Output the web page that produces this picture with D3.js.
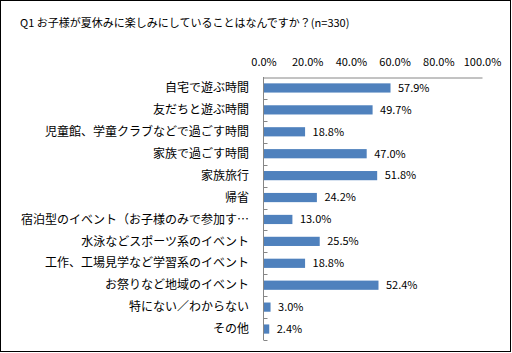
<!DOCTYPE html>
<html lang="ja">
<head>
    <meta charset="UTF-8">
    <title></title>
    <style type="text/css">
        html, body { padding:0; margin:0; background:#fff; }
        text { font-family: "Noto Sans CJK JP", "DejaVu Sans", sans-serif; }
    </style>
</head>
<body>
<script src="https://d3js.org/d3.v7.min.js"></script>
<script type="text/javascript">
    var titleText = 'Q1 お子様が夏休みに楽しみにしていることはなんですか？(n=330)';
    var categories = [
        '自宅で遊ぶ時間',
        '友だちと遊ぶ時間',
        '児童館、学童クラブなどで過ごす時間',
        '家族で過ごす時間',
        '家族旅行',
        '帰省',
        '宿泊型のイベント（お子様のみで参加す…',
        '水泳などスポーツ系のイベント',
        '工作、工場見学など学習系のイベント',
        'お祭りなど地域のイベント',
        '特にない／わからない',
        'その他'
    ];
    var values = [57.9, 49.7, 18.8, 47.0, 51.8, 24.2, 13.0, 25.5, 18.8, 52.4, 3.0, 2.4];
    var tickValues = [0, 20, 40, 60, 80, 100];

    var width = 512,
        height = 353,
        plotLeft = 263.5,
        plotRight = 482,
        plotTop = 77,
        plotBottom = 340;

    var svg = d3.select('body').append('svg')
            .attr('width', width)
            .attr('height', height);

    // outer frame
    svg.append('rect')
        .attr('x', 0.5).attr('y', 0.5)
        .attr('width', 510).attr('height', 351)
        .attr('fill', '#fff')
        .attr('stroke', '#000');

    svg.append('text')
        .attr('x', 20)
        .attr('y', 27)
        .attr('font-size', 11)
        .attr('fill', '#000')
        .text(titleText);

    var xScale = d3.scaleLinear().domain([0, 100]).range([plotLeft, plotRight]);
    var yScale = d3.scaleBand().domain(categories).range([plotTop, plotBottom]).paddingInner(0.58).paddingOuter(0.29);

    // top value axis
    var xAxis = d3.axisTop(xScale)
        .tickValues(tickValues)
        .tickSize(0)
        .tickPadding(12)
        .tickFormat(function(d) { return d.toFixed(1) + '%'; });

    var gx = svg.append('g')
        .attr('class', 'x-axis')
        .attr('transform', 'translate(0,' + (plotTop + 0.5) + ')')
        .call(xAxis);
    gx.select('.domain').attr('stroke', '#868686');
    gx.selectAll('text').attr('font-size', 11).attr('fill', '#000')
        .attr('font-family', '"DejaVu Sans", sans-serif');

    // category axis
    var bandEdges = categories.map(function(c) { return yScale(c) - yScale.step() * yScale.paddingInner() / 2; });
    bandEdges.push(plotBottom);

    var gy = svg.append('g').attr('class', 'y-axis');
    gy.append('line')
        .attr('x1', plotLeft).attr('x2', plotLeft)
        .attr('y1', plotTop).attr('y2', plotBottom)
        .attr('stroke', '#868686');
    gy.selectAll('line.tick')
        .data(bandEdges.slice(1))
        .enter()
        .append('line')
        .attr('class', 'tick')
        .attr('x1', plotLeft).attr('x2', plotLeft + 4)
        .attr('y1', function(d) { return Math.round(d) + 0.5; })
        .attr('y2', function(d) { return Math.round(d) + 0.5; })
        .attr('stroke', '#868686');

    gy.selectAll('text')
        .data(categories)
        .enter()
        .append('text')
        .attr('x', 249)
        .attr('y', function(d) { return yScale(d) + yScale.bandwidth() / 2; })
        .attr('dy', '0.35em')
        .attr('text-anchor', 'end')
        .attr('font-size', 12)
        .attr('fill', '#000')
        .text(function(d) { return d; });

    // bars
    svg.append('g').selectAll('rect')
        .data(values)
        .enter()
        .append('rect')
        .attr('x', plotLeft + 0.5)
        .attr('y', function(d, i) { return yScale(categories[i]); })
        .attr('width', function(d) { return xScale(d) - plotLeft; })
        .attr('height', yScale.bandwidth())
        .attr('fill', '#4f81bd');

    svg.append('g').selectAll('text')
        .data(values)
        .enter()
        .append('text')
        .attr('x', function(d) { return xScale(d) + 8; })
        .attr('y', function(d, i) { return yScale(categories[i]) + yScale.bandwidth() / 2; })
        .attr('dy', '0.35em')
        .attr('font-size', 11)
        .attr('font-family', '"DejaVu Sans", sans-serif')
        .attr('fill', '#000')
        .text(function(d) { return d.toFixed(1) + '%'; });
</script>
</body>
</html>
